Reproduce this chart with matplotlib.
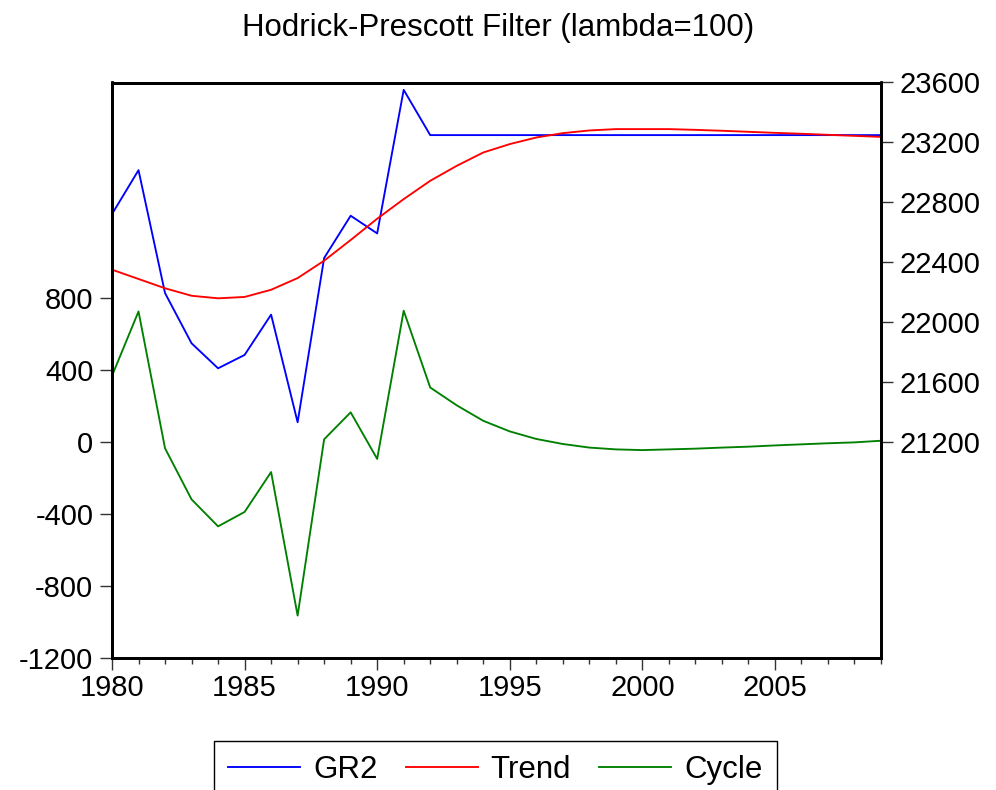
import matplotlib.pyplot as plt
from matplotlib.ticker import MultipleLocator

years = list(range(1980, 2010))

# GR2 and its HP trend (right axis)
gr2 = [22722, 23015, 22195, 21860, 21693, 21782, 22051, 21333, 22429, 22711,
       22593, 23551, 23249, 23249, 23249, 23249, 23249, 23249, 23249, 23249,
       23249, 23249, 23249, 23249, 23249, 23249, 23249, 23249, 23249, 23249]
trend = [22351, 22289, 22227, 22177, 22160, 22169, 22217, 22295, 22411, 22549,
         22691, 22822, 22944, 23044, 23133, 23189, 23233, 23262, 23280, 23289,
         23289, 23289, 23284, 23278, 23271, 23264, 23258, 23251, 23244, 23237]

# cyclical component (left axis)
cycle = [369, 727, -34, -318, -468, -388, -166, -964, 16, 166,
         -93, 731, 304, 205, 119, 60, 18, -10, -30, -40,
         -44, -40, -36, -30, -25, -18, -12, -6, -1, 8]

left_ticks = [-1200, -800, -400, 0, 400, 800]
right_ticks = [21200, 21600, 22000, 22400, 22800, 23200, 23600]
x_ticks = [1980, 1985, 1990, 1995, 2000, 2005]

plt.rcParams['font.family'] = ['Liberation Sans', 'DejaVu Sans']
plt.rcParams['axes.unicode_minus'] = False

fig = plt.figure(figsize=(9.96, 7.9), dpi=100)
ax = fig.add_axes([112 / 996, 1 - 658 / 790, 769 / 996, 575.5 / 790])
ax2 = ax.twinx()

l_cyc, = ax.plot(years, cycle, color='#008000', lw=1.35)
l_gr2, = ax2.plot(years, gr2, color='#0000ff', lw=1.35)
l_trend, = ax2.plot(years, trend, color='#ff0000', lw=1.35)

ax.set_xlim(1980, 2009)
ax.set_ylim(-1200, 2000)
ax2.set_ylim(19760, 23600)

ax.set_xticks(x_ticks)
ax.xaxis.set_minor_locator(MultipleLocator(1))
ax.set_yticks(left_ticks)
ax2.set_yticks(right_ticks)

for a in (ax, ax2):
    for s in a.spines.values():
        s.set_linewidth(2)
    a.tick_params(which='major', direction='out', length=8.5, width=1,
                  color='#333333', labelsize=21, pad=5)
ax.tick_params(axis='x', which='minor', direction='out', length=4.5,
               width=1, color='#333333')
ax.tick_params(axis='x', pad=3)

fig.text(0.5, 1 - 28 / 790, 'Hodrick-Prescott Filter (lambda=100)',
         ha='center', va='center', fontsize=22.5)

leg = fig.legend([l_gr2, l_trend, l_cyc], ['GR2', 'Trend', 'Cycle'],
                 loc='upper left', bbox_to_anchor=(214 / 996, 1 - 741 / 790),
                 borderaxespad=0, ncol=3, fontsize=22.5, handlelength=2.3,
                 handletextpad=0.42, columnspacing=0.9, borderpad=0.45,
                 fancybox=False, edgecolor='black', framealpha=1)
leg.get_frame().set_linewidth(1)

fig.savefig('out.png', dpi=100)
